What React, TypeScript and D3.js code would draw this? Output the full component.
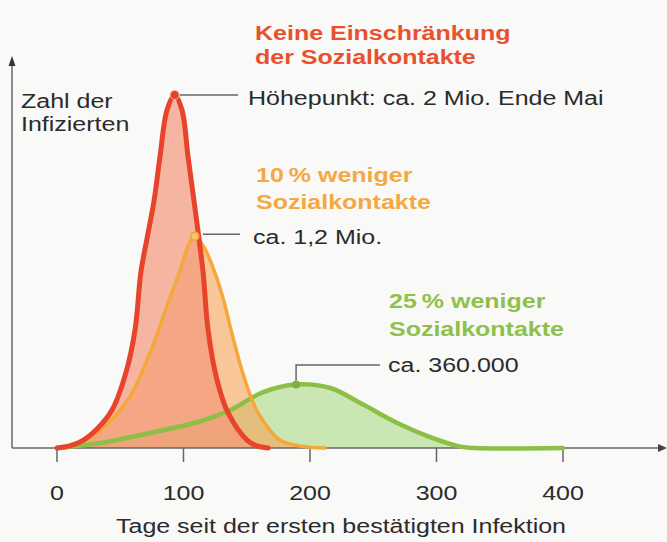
import React, { useEffect, useRef } from 'react'
import * as d3 from 'd3'

// x axis ticks (Tage)
const dayTicks = [0, 100, 200, 300, 400]

// Keine Einschränkung der Sozialkontakte (Mio. Infizierte)
const redDays = [0, 10, 21, 32, 43.5, 55, 61.7, 66.4, 71.5, 76.7, 81.4, 87, 93, 98.8, 103.6, 108.3, 115.4, 119.4, 126.5, 135.2, 150.2, 158, 167]
const redValues = [0, 0.012, 0.045, 0.11, 0.215, 0.44, 0.67, 1.0, 1.2, 1.4, 1.65, 1.915, 2.0, 1.915, 1.65, 1.4, 1.0, 0.67, 0.385, 0.2, 0.045, 0.012, 0]

// 10 % weniger Sozialkontakte
const orangeDays = [0, 14, 34, 56, 73.5, 87.7, 97, 104, 109, 116, 125, 132, 137.5, 148.6, 158.9, 176.3, 195, 212]
const orangeValues = [0, 0.017, 0.1, 0.272, 0.538, 0.82, 1.0, 1.15, 1.2, 1.14, 0.99, 0.83, 0.67, 0.385, 0.2, 0.045, 0.008, 0]

// 25 % weniger Sozialkontakte
const greenDays = [0, 34, 73.5, 113, 137, 163, 189, 216, 242, 269, 295, 319, 330, 400]
const greenValues = [0, 0.028, 0.085, 0.15, 0.215, 0.317, 0.36, 0.34, 0.246, 0.142, 0.062, 0.008, 0, 0]

const FONT = '"Liberation Sans", Arial, sans-serif'

export default function App() {
  const ref = useRef<SVGSVGElement>(null)

  useEffect(() => {
    const svg = d3.select(ref.current)
    svg.selectAll('*').remove()

    const width = 667, height = 542
    const x = d3.scaleLinear([0, 400], [57, 563])
    const y = d3.scaleLinear([0, 2], [448, 95])
    const axisX = 12

    svg.attr('width', width).attr('height', height)
    svg.append('rect').attr('width', width).attr('height', height).attr('fill', '#f9f9f7')

    const toPts = (days: number[], vals: number[]) => days.map((d, i) => [d, vals[i]] as [number, number])
    const red = { pts: toPts(redDays, redValues), stroke: '#e8432b', fill: '#f4987c', op: 0.7, sw: 5 }
    const orange = { pts: toPts(orangeDays, orangeValues), stroke: '#f5a83a', fill: '#f6a45a', op: 0.6, sw: 3.5 }
    const green = { pts: toPts(greenDays, greenValues), stroke: '#8bbf45', fill: '#aad884', op: 0.6, sw: 4.5 }

    const curve = d3.curveCatmullRom.alpha(0.5)
    const area = d3.area<[number, number]>()
      .x(d => x(d[0])).y0(y(0)).y1(d => Math.min(y(0), y(d[1])))
      .curve(curve)
    const line = d3.line<[number, number]>()
      .x(d => x(d[0])).y(d => y(d[1]))
      .curve(curve)

    // fills: green behind, then orange, then red
    ;[green, orange, red].forEach(s => {
      svg.append('path').attr('d', area(s.pts)).attr('fill', s.fill).attr('fill-opacity', s.op)
    })

    // axes
    const axisColor = '#666'
    svg.append('line').attr('x1', axisX).attr('x2', 660).attr('y1', y(0)).attr('y2', y(0))
      .attr('stroke', axisColor).attr('stroke-width', 1.5)
    svg.append('path').attr('d', `M667,${y(0)} L658,${y(0) - 4} L658,${y(0) + 4} Z`).attr('fill', '#444')
    svg.append('line').attr('x1', axisX).attr('x2', axisX).attr('y1', y(0)).attr('y2', 64)
      .attr('stroke', axisColor).attr('stroke-width', 1.5)
    svg.append('path').attr('d', `M${axisX},56 L${axisX - 3.5},66 L${axisX + 3.5},66 Z`).attr('fill', '#333')

    const ticks = svg.append('g')
    dayTicks.forEach(t => {
      ticks.append('line').attr('x1', x(t)).attr('x2', x(t)).attr('y1', y(0)).attr('y2', y(0) + 14)
        .attr('stroke', axisColor).attr('stroke-width', 1.5)
    })

    // strokes (green below, red on top)
    ;[green, orange, red].forEach(s => {
      svg.append('path').attr('d', line(s.pts)).attr('fill', 'none')
        .attr('stroke', s.stroke).attr('stroke-width', s.sw)
        .attr('stroke-linejoin', 'round').attr('stroke-linecap', 'round')
    })

    // peak dots + leaders
    const peak = (days: number[], vals: number[]) => {
      const i = d3.maxIndex(vals)
      return [x(days[i]), y(vals[i])]
    }
    const [rx, ry] = peak(redDays, redValues)
    const [ox, oy] = peak(orangeDays, orangeValues)
    const [gx, gy] = peak(greenDays, greenValues)
    const leader = '#666'
    svg.append('line').attr('x1', rx + 5).attr('x2', 238).attr('y1', ry).attr('y2', ry).attr('stroke', leader).attr('stroke-width', 1.5)
    svg.append('line').attr('x1', ox + 8).attr('x2', 240).attr('y1', oy - 2).attr('y2', oy - 2).attr('stroke', leader).attr('stroke-width', 1.5)
    svg.append('path').attr('d', `M${gx},${gy - 4} V365 H380`).attr('fill', 'none').attr('stroke', leader).attr('stroke-width', 1.5)
    svg.append('circle').attr('cx', rx).attr('cy', ry).attr('r', 4.5).attr('fill', '#d9452f').attr('stroke', '#f6b09a').attr('stroke-width', 1)
    svg.append('circle').attr('cx', ox).attr('cy', oy).attr('r', 4).attr('fill', '#f7c46a').attr('stroke', '#f0a03a').attr('stroke-width', 1.5)
    svg.append('circle').attr('cx', gx).attr('cy', gy).attr('r', 4).attr('fill', '#7cb043')

    // texts (horizontally stretched like the source)
    const txt = (s: string, tx: number, ty: number, color: string, bold = false, anchor = 'start') => {
      svg.append('text').attr('transform', `translate(${tx},${ty}) scale(1.25,1)`)
        .attr('font-family', FONT).attr('font-size', 20)
        .attr('font-weight', bold ? 'bold' : 'normal')
        .attr('fill', color).attr('text-anchor', anchor).text(s)
    }
    const dark = '#2b2b2b'
    txt('Keine Einschränkung', 255, 40, '#e9502f', true)
    txt('der Sozialkontakte', 255, 64, '#e9502f', true)
    txt('Höhepunkt: ca. 2 Mio. Ende Mai', 248, 105, dark)
    txt('Zahl der', 21, 108, dark)
    txt('Infizierten', 21, 131, dark)
    txt('10\u2009% weniger', 256, 182, '#f5a842', true)
    txt('Sozialkontakte', 256, 209, '#f5a842', true)
    txt('ca. 1,2 Mio.', 253, 244, dark)
    txt('25\u2009% weniger', 389, 308, '#8fc04c', true)
    txt('Sozialkontakte', 389, 336, '#8fc04c', true)
    txt('ca. 360.000', 388, 372, dark)

    dayTicks.forEach(t => txt(String(t), x(t), 500, dark, false, 'middle'))
    txt('Tage seit der ersten bestätigten Infektion', 341, 533, dark, false, 'middle')
  }, [])

  return <svg ref={ref} style={{ position: 'absolute', left: 0, top: 0 }} />
}
